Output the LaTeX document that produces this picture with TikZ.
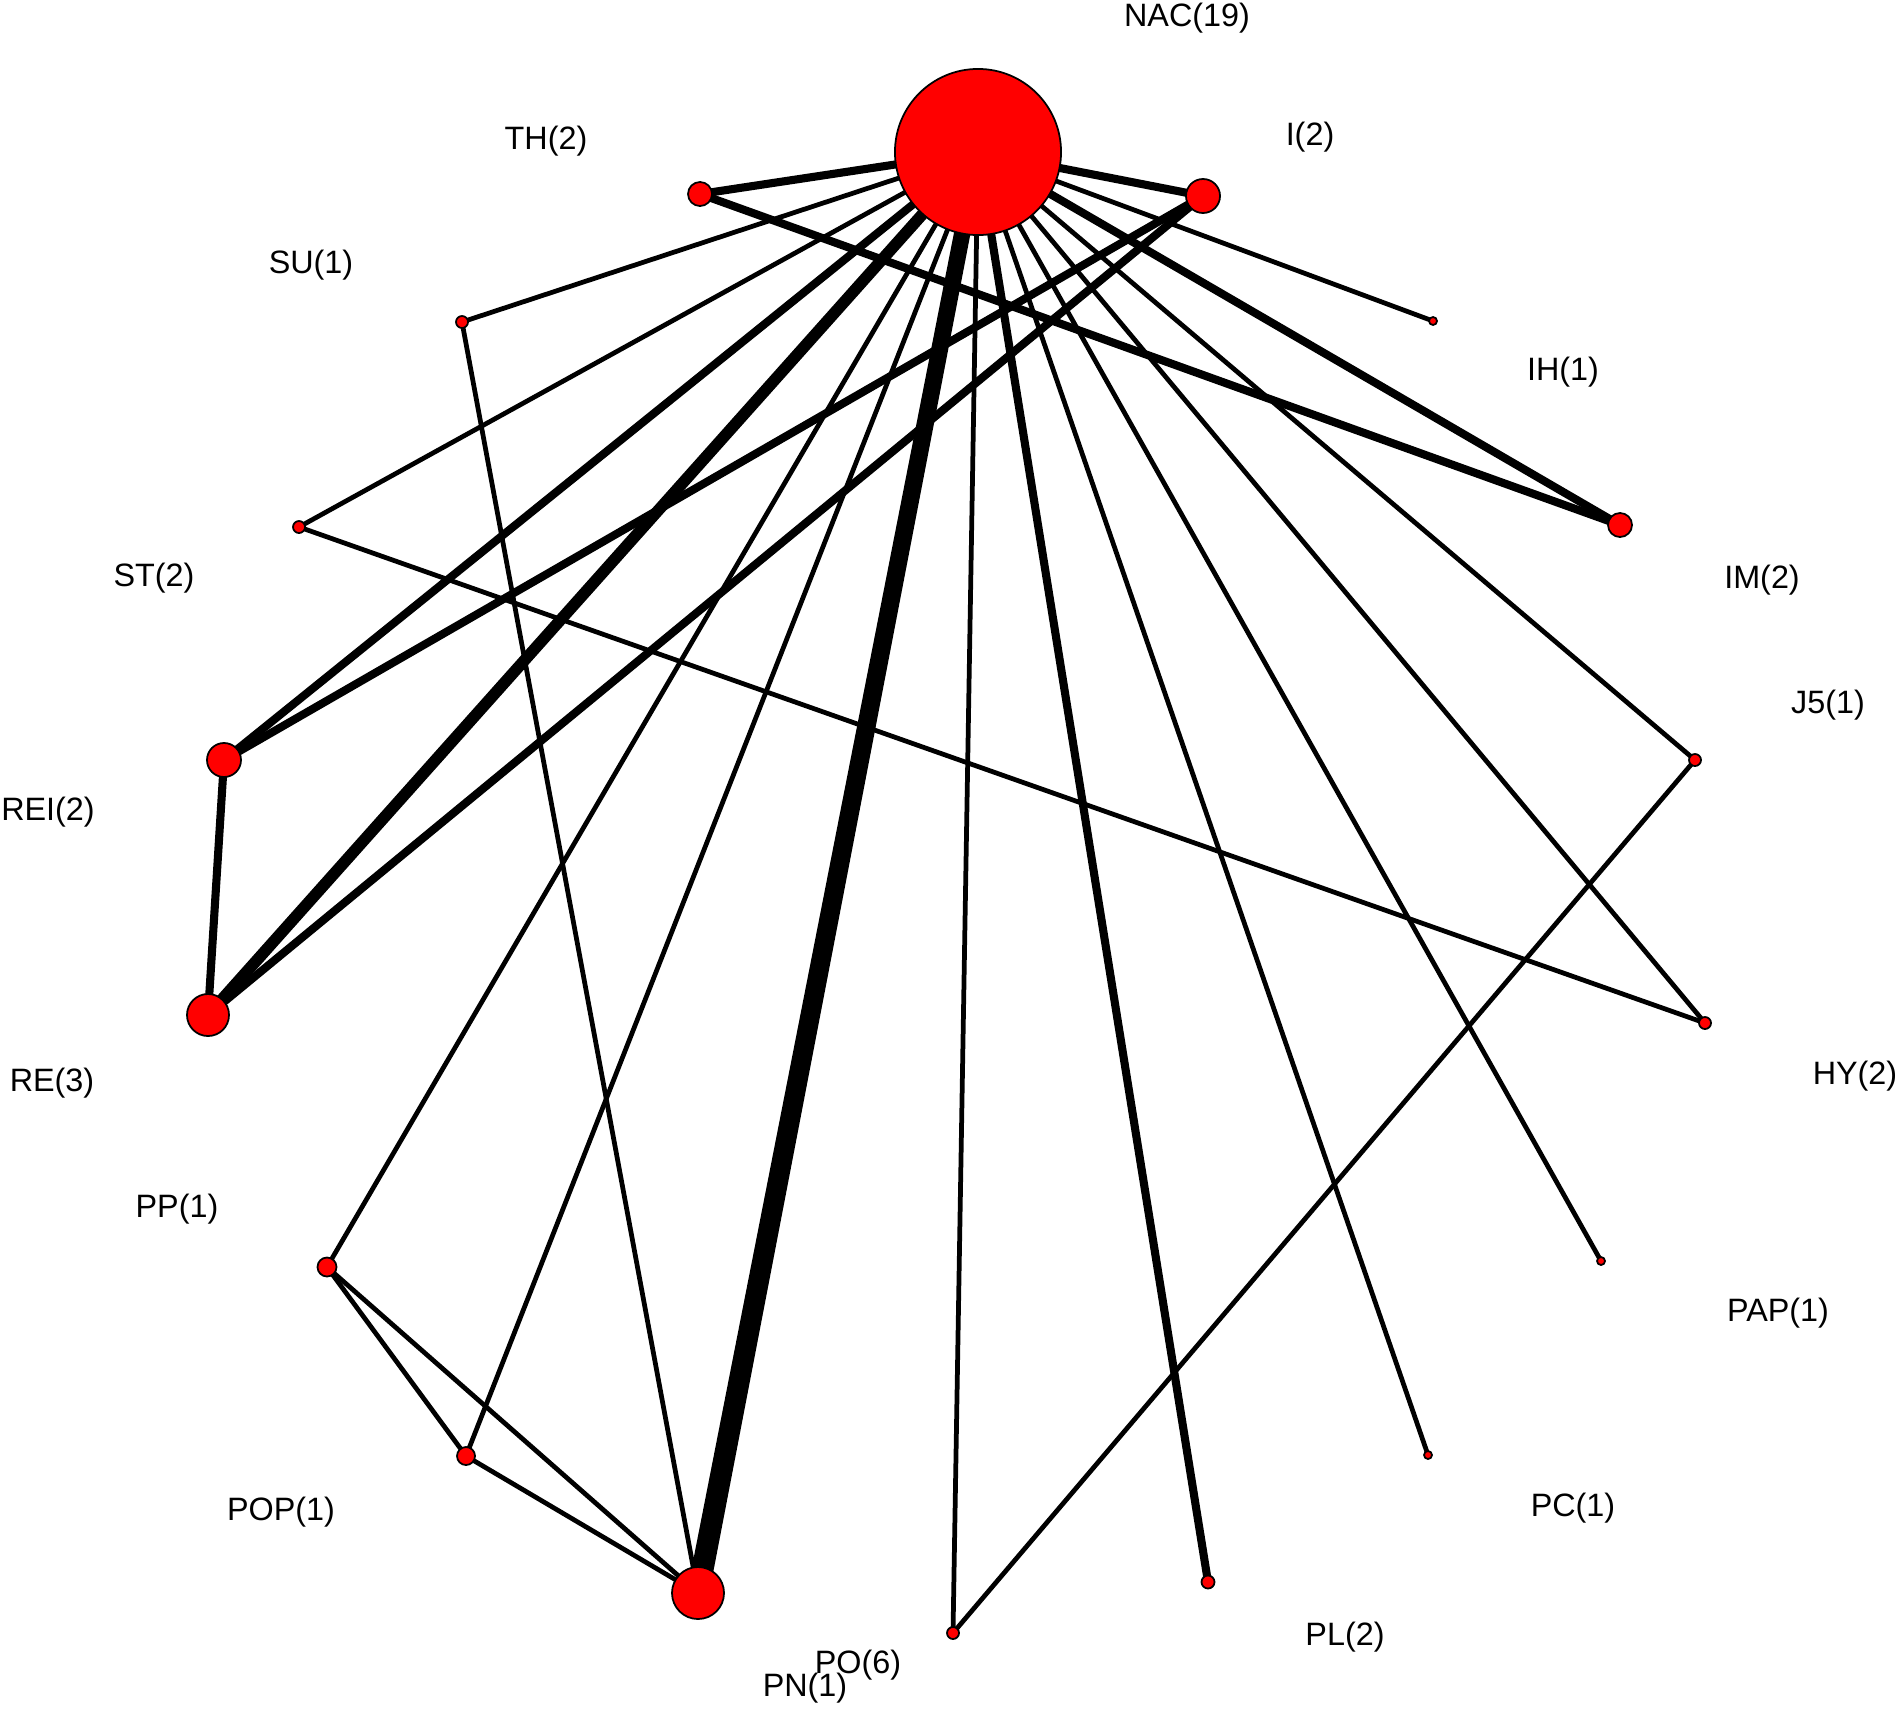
\documentclass[tikz,border=0pt]{standalone}
\usepackage{fontspec}
\setmainfont{Liberation Sans}
\usetikzlibrary{backgrounds,calc}

\begin{document}
\begin{tikzpicture}[x=0.01cm,y=0.01cm]
\tikzstyle{every node}+=[inner sep=0pt]
\tikzstyle{trt}=[circle,draw=black,line width=0.5pt,fill=red]
\tikzstyle{lbl}=[font=\fontsize{9.2}{11}\selectfont]
\tikzstyle{thin}=[line width=1.35pt]
\tikzstyle{mid}=[line width=2.3pt]
\tikzstyle{heavy}=[line width=3.3pt]
\useasboundingbox (0,0) rectangle (1900,-1709);
\node [trt,minimum size=1.66cm] (NAC) at (978,-152) {};
\node [trt,minimum size=0.34cm] (I) at (1203,-196) {};
\node [trt,minimum size=0.24cm] (TH) at (700,-194) {};
\node [trt,minimum size=0.12cm] (SU) at (462,-322) {};
\node [trt,minimum size=0.08cm] (IH) at (1433,-321) {};
\node [trt,minimum size=0.12cm] (ST) at (299,-527) {};
\node [trt,minimum size=0.24cm] (IM) at (1620,-525) {};
\node [trt,minimum size=0.12cm] (J5) at (1695,-760) {};
\node [trt,minimum size=0.34cm] (REI) at (224,-760) {};
\node [trt,minimum size=0.12cm] (HY) at (1705,-1023) {};
\node [trt,minimum size=0.42cm] (RE) at (208,-1015) {};
\node [trt,minimum size=0.19cm] (PP) at (327,-1267) {};
\node [trt,minimum size=0.08cm] (PAP) at (1601,-1261) {};
\node [trt,minimum size=0.18cm] (POP) at (466,-1456) {};
\node [trt,minimum size=0.08cm] (PC) at (1428,-1455) {};
\node [trt,minimum size=0.52cm] (PO) at (698,-1593) {};
\node [trt,minimum size=0.12cm] (PN) at (953,-1633) {};
\node [trt,minimum size=0.13cm] (PL) at (1208,-1582) {};
\node [lbl] (NAClbl) at (1187,-18) {NAC(19)};
\node [lbl] (Ilbl) at (1310,-137) {I(2)};
\node [lbl] (THlbl) at (546,-141) {TH(2)};
\node [lbl] (SUlbl) at (311,-265) {SU(1)};
\node [lbl] (IHlbl) at (1563,-372) {IH(1)};
\node [lbl] (STlbl) at (154,-578) {ST(2)};
\node [lbl] (IMlbl) at (1762,-580) {IM(2)};
\node [lbl] (J5lbl) at (1828,-705) {J5(1)};
\node [lbl] (REIlbl) at (48,-812) {REI(2)};
\node [lbl] (HYlbl) at (1855,-1076) {HY(2)};
\node [lbl] (RElbl) at (52,-1083) {RE(3)};
\node [lbl] (PPlbl) at (177,-1209) {PP(1)};
\node [lbl] (PAPlbl) at (1778,-1313) {PAP(1)};
\node [lbl] (POPlbl) at (281,-1512) {POP(1)};
\node [lbl] (PClbl) at (1573,-1508) {PC(1)};
\node [lbl] (PLlbl) at (1345,-1637) {PL(2)};
\node [lbl] (POlbl) at (858,-1665) {PO(6)};
\node [lbl] (PNlbl) at (805,-1688) {PN(1)};
\begin{pgfonlayer}{background}
\draw [thin] (NAC.center) -- (SU.center);
\draw [thin] (NAC.center) -- (ST.center);
\draw [thin] (NAC.center) -- (PP.center);
\draw [thin] (NAC.center) -- (POP.center);
\draw [thin] (NAC.center) -- (PN.center);
\draw [thin] (NAC.center) -- (PC.center);
\draw [thin] (NAC.center) -- (PAP.center);
\draw [thin] (NAC.center) -- (HY.center);
\draw [thin] (NAC.center) -- (J5.center);
\draw [thin] (NAC.center) -- (IH.center);
\draw [thin] (SU.center) -- (PO.center);
\draw [thin] (ST.center) -- (HY.center);
\draw [thin] (J5.center) -- (PN.center);
\draw [thin] (PP.center) -- (POP.center);
\draw [thin] (PP.center) -- (PO.center);
\draw [thin] (POP.center) -- (PO.center);
\draw [mid] (NAC.center) -- (TH.center);
\draw [mid] (NAC.center) -- (I.center);
\draw [mid] (NAC.center) -- (REI.center);
\draw [mid] (NAC.center) -- (IM.center);
\draw [mid] (NAC.center) -- (PL.center);
\draw [mid] (TH.center) -- (IM.center);
\draw [mid] (I.center) -- (REI.center);
\draw [mid] (I.center) -- (RE.center);
\draw [mid] (REI.center) -- (RE.center);
\draw [heavy] (NAC.center) -- (RE.center);
\fill ($(NAC.center)!0.08cm!90:(PO.center)$) -- ($(NAC.center)!0.08cm!-90:(PO.center)$)
  -- ($(PO.center)!0.11cm!90:(NAC.center)$) -- ($(PO.center)!0.11cm!-90:(NAC.center)$) -- cycle;
\end{pgfonlayer}
\end{tikzpicture}
\end{document}
